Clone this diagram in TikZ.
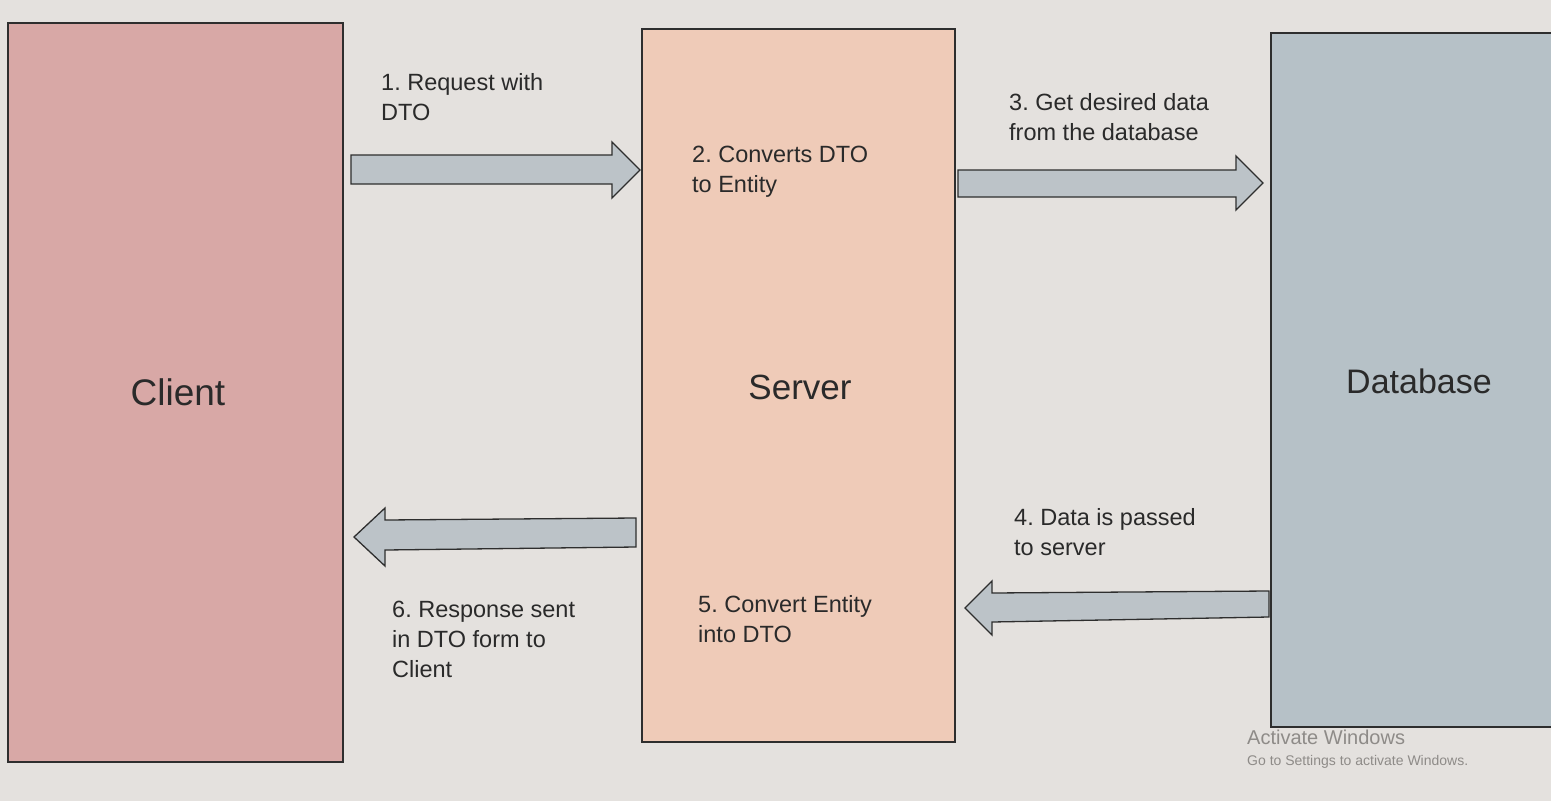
\documentclass[tikz,border=0pt]{standalone}
\usepackage{fontspec}
\setmainfont{Liberation Sans}
\frenchspacing
\definecolor{bgc}{HTML}{E4E1DE}
\definecolor{clientc}{HTML}{D8A8A6}
\definecolor{serverc}{HTML}{EFCBB8}
\definecolor{dbc}{HTML}{B6C1C7}
\definecolor{arrc}{HTML}{BCC3C8}
\definecolor{edgec}{HTML}{2E2E2E}
\definecolor{lbl}{HTML}{2A2A2A}
\definecolor{wm}{HTML}{8E8B88}
\begin{document}
\begin{tikzpicture}[x=1pt,y=-1pt]
\tikzset{
  boxc/.style={draw=edgec,line width=1.4pt},
  blk/.style={draw=edgec,fill=arrc,line width=1.3pt,line join=miter},
  lab/.style={anchor=north west,inner sep=0pt,align=left,font=\fontsize{23.5}{30}\selectfont,text=lbl},
  big/.style={inner sep=0pt,font=\fontsize{35}{40}\selectfont,text=lbl},
  wmark/.style={anchor=north west,inner sep=0pt,text=wm}
}
\fill[bgc] (0,0) rectangle (1551,801);
\useasboundingbox (0,0) rectangle (1551,801);
% boxes
\draw[boxc,fill=clientc] (8,23) rectangle (343,762);
\draw[boxc,fill=serverc] (642,29) rectangle (955,742);
\draw[boxc,fill=dbc] (1271,33) rectangle (1570,727);
\node[big,font=\fontsize{37}{40}\selectfont] (client) at (178,392) {Client};
\node[big] (server) at (800,387) {Server};
\node[big,font=\fontsize{34}{40}\selectfont] (db) at (1419,381) {Database};
% arrows
\draw[blk] (351,155) -- (612,155) -- (612,142) -- (640,170) -- (612,198) -- (612,184) -- (351,184) -- cycle;
\draw[blk] (958,170) -- (1236,170) -- (1236,156) -- (1263,183) -- (1236,210) -- (1236,197) -- (958,197) -- cycle;
\draw[blk] (636,518) -- (385,520) -- (385,508) -- (354,537) -- (385,566) -- (385,550) -- (636,547) -- cycle;
\draw[blk] (1269,591) -- (992,593) -- (992,581) -- (965,608) -- (992,635) -- (992,622) -- (1269,617) -- cycle;
% labels
\node[lab] (t1) at (381,73) {1. Request with\\DTO};
\node[lab] (t2) at (692,146) {2. Converts DTO\\to Entity};
\node[lab] (t3) at (1009,93) {3. Get desired data\\from the database};
\node[lab] (t4) at (1014,508) {4. Data is passed\\to server};
\node[lab] (t5) at (698,595) {5. Convert Entity\\into DTO};
\node[lab] (t6) at (392,601) {6. Response sent\\in DTO form to\\Client};
\node[wmark,font=\fontsize{20}{24}\selectfont] (w1) at (1247,730) {Activate Windows};
\node[wmark,font=\fontsize{14}{16}\selectfont] (w2) at (1247,755) {Go to Settings to activate Windows.};
\end{tikzpicture}
\end{document}
